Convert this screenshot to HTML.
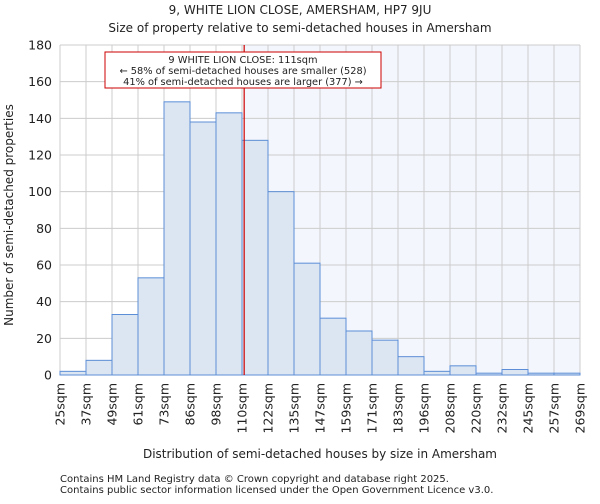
<!DOCTYPE html>
<html><head><meta charset="utf-8"><style>
body{margin:0;background:#fff;font-family:"DejaVu Sans","Liberation Sans",sans-serif;}
svg text{font-family:"DejaVu Sans","Liberation Sans",sans-serif;fill:#222;}
</style></head><body>
<svg id="chart" width="600" height="500" viewBox="0 0 600 500" xmlns="http://www.w3.org/2000/svg">
<text x="300" y="14" text-anchor="middle" font-size="12">9, WHITE LION CLOSE, AMERSHAM, HP7 9JU</text>
<text x="300" y="32" text-anchor="middle" font-size="12">Size of property relative to semi-detached houses in Amersham</text>
<g id="plot"></g>
<text x="320" y="458" text-anchor="middle" font-size="12">Distribution of semi-detached houses by size in Amersham</text>
<text transform="translate(13,215) rotate(-90)" text-anchor="middle" font-size="12">Number of semi-detached properties</text>
<text x="60" y="482" font-size="10" fill="#444">Contains HM Land Registry data © Crown copyright and database right 2025.</text>
<text x="60" y="493" font-size="10" fill="#444">Contains public sector information licensed under the Open Government Licence v3.0.</text>
</svg>
<script>
const tickLabels=["25sqm","37sqm","49sqm","61sqm","73sqm","86sqm","98sqm","110sqm","122sqm","135sqm","147sqm","159sqm","171sqm","183sqm","196sqm","208sqm","220sqm","232sqm","245sqm","257sqm","269sqm"];
const counts=[2,8,33,53,149,138,143,128,100,61,31,24,19,10,2,5,1,3,1,1];
const yTicks=[0,20,40,60,80,100,120,140,160,180];
const markerBin=7+1/12;
const annotation=["9 WHITE LION CLOSE: 111sqm","← 58% of semi-detached houses are smaller (528)","41% of semi-detached houses are larger (377) →"];
const X0=60,X1=580,Y0=375,Y1=45,YMAX=180;
const bw=(X1-X0)/counts.length;
const xs=i=>X0+i*bw;
const ys=v=>Y0-(v/YMAX)*(Y0-Y1);
const NS="http://www.w3.org/2000/svg";
const g=document.getElementById('plot');
function mk(t,a){const e=document.createElementNS(NS,t);for(const k in a)e.setAttribute(k,a[k]);g.appendChild(e);return e;}
const mx=xs(markerBin);
let sh=mk('rect',{x:mx,y:Y1,width:X1-mx,height:Y0-Y1,fill:'#f3f6fd'});


yTicks.forEach(v=>{
 let l=mk('line',{x1:X0,x2:X1,y1:ys(v),y2:ys(v),stroke:'#ccc','stroke-width':1});
 
 
 let t=mk('text',{x:X0-8,y:ys(v)+4.5,'text-anchor':'end','font-size':12.5});
 
 
 t.textContent=v;
});
tickLabels.forEach((s,i)=>{
 let l=mk('line',{x1:xs(i),x2:xs(i),y1:Y1,y2:Y0,stroke:'#ccc','stroke-width':1});
 
 
 let t=mk('text',{transform:`translate(${xs(i)+4.5},${Y0+8}) rotate(-90)`,'text-anchor':'end','font-size':12.5});
 
 
 t.textContent=s;
});
counts.forEach((c,i)=>{
 let r=mk('rect',{x:xs(i),y:ys(c),width:bw,height:Y0-ys(c),fill:'#dce6f3',stroke:'#5b8ed6','stroke-width':1});
 
 
});
let ml=mk('line',{x1:mx,x2:mx,y1:Y1,y2:Y0,stroke:'#cc0000','stroke-width':1.2});


let ab=mk('rect',{x:105,y:52,width:276,height:36,fill:'#fff',stroke:'#cc0000','stroke-width':1});


annotation.forEach((s,i)=>{
 let t=mk('text',{x:243,y:63+i*11,'text-anchor':'middle','font-size':9.8,textLength:i==0?'':'',});
 if(i>0)t.removeAttribute('textLength'); else t.removeAttribute('textLength');
 
 
 t.textContent=s;
});
</script>
</body></html>
